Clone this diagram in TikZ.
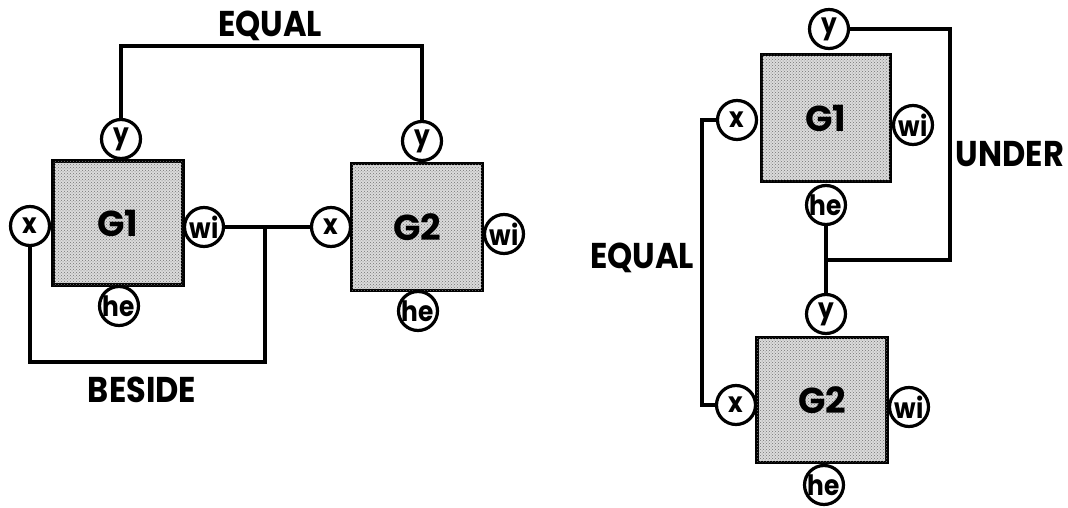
\documentclass[tikz,border=0pt]{standalone}
\usepackage{fontspec}
\usepackage{graphicx}
\setmainfont{Poppins}
\usetikzlibrary{patterns}
\tikzset{
  gbox/.style={draw, line width=3.8pt, fill=black!14,
    postaction={pattern=crosshatch dots, pattern color=black!55},
    inner sep=0pt, font=\fontsize{36}{36}\selectfont\bfseries},
  port/.style={circle, draw, line width=3.2pt, fill=white, minimum size=39pt,
    inner sep=0pt, font=\fontsize{27}{27}\selectfont\bfseries},
  wire/.style={line width=3.3pt},
  lbl/.style={inner sep=0pt, font=\fontsize{32}{32}\selectfont\bfseries}
}
\newcommand{\tallish}[1]{\scalebox{1}[1.12]{#1}}
\newcommand{\pt}[1]{\scalebox{0.92}[1.04]{#1}}
\begin{document}
\begin{tikzpicture}[x=1pt,y=-1pt]
\useasboundingbox (0,0) rectangle (1068,508);
% ---------- left: BESIDE / EQUAL ----------
\node[gbox, minimum width=130pt, minimum height=124pt] (LG1) at (118,223) {G1};
\node[port] (L1y)  at (121,139) {\pt{y}};
\node[port] (L1x)  at (30,226)  {\pt{x}};
\node[port] (L1wi) at (204,227) {\pt{wi}};
\node[port] (L1he) at (119,306) {\pt{he}};

\node[gbox, minimum width=131pt, minimum height=127pt] (LG2) at (417,227) {G2};
\node[port] (L2y)  at (422,141) {\pt{y}};
\node[port] (L2x)  at (331,227) {\pt{x}};
\node[port] (L2wi) at (504,234) {\pt{wi}};
\node[port] (L2he) at (418,311) {\pt{he}};

\coordinate (eqL) at (270,46);
\draw[wire] (L1y.north) |- (eqL) -| (L2y.north);
\draw[wire] (L1wi.east) -- (L2x.west);
\coordinate (bsL) at (265,362);
\coordinate (bsJ) at (265,227);
\draw[wire] (L1x.south) |- (bsL) -- (bsJ);

\node[lbl] (tEqL) at (270,26) {\tallish{EQUAL}};
\node[lbl] (tBes) at (142,390) {\tallish{BESIDE}};

% ---------- right: UNDER / EQUAL ----------
\node[gbox, minimum width=129pt, minimum height=127pt] (RG1) at (826,118) {G1};
\node[port] (R1y)  at (829,29)  {\pt{y}};
\node[port] (R1x)  at (737,120) {\pt{x}};
\node[port] (R1wi) at (913,125) {\pt{wi}};
\node[port] (R1he) at (826,205) {\pt{he}};

\node[gbox, minimum width=130pt, minimum height=125pt] (RG2) at (822,400) {G2};
\node[port] (R2y)  at (826,314) {\pt{y}};
\node[port] (R2x)  at (736,405) {\pt{x}};
\node[port] (R2wi) at (909,407) {\pt{wi}};
\node[port] (R2he) at (824,485) {\pt{he}};

\coordinate (unB) at (950,260);
\coordinate (unJ) at (826,260);
\draw[wire] (R1y.east) -| (unB) -- (unJ);
\draw[wire] (R1he.south) -- (R2y.north);
\coordinate (eqR) at (702,260);
\draw[wire] (R1x.west) -| (eqR) |- (R2x.west);

\node[lbl] (tUnd) at (1010,154) {\tallish{UNDER}};
\node[lbl] (tEqR) at (642,258) {\tallish{EQUAL}};
\end{tikzpicture}
\end{document}
